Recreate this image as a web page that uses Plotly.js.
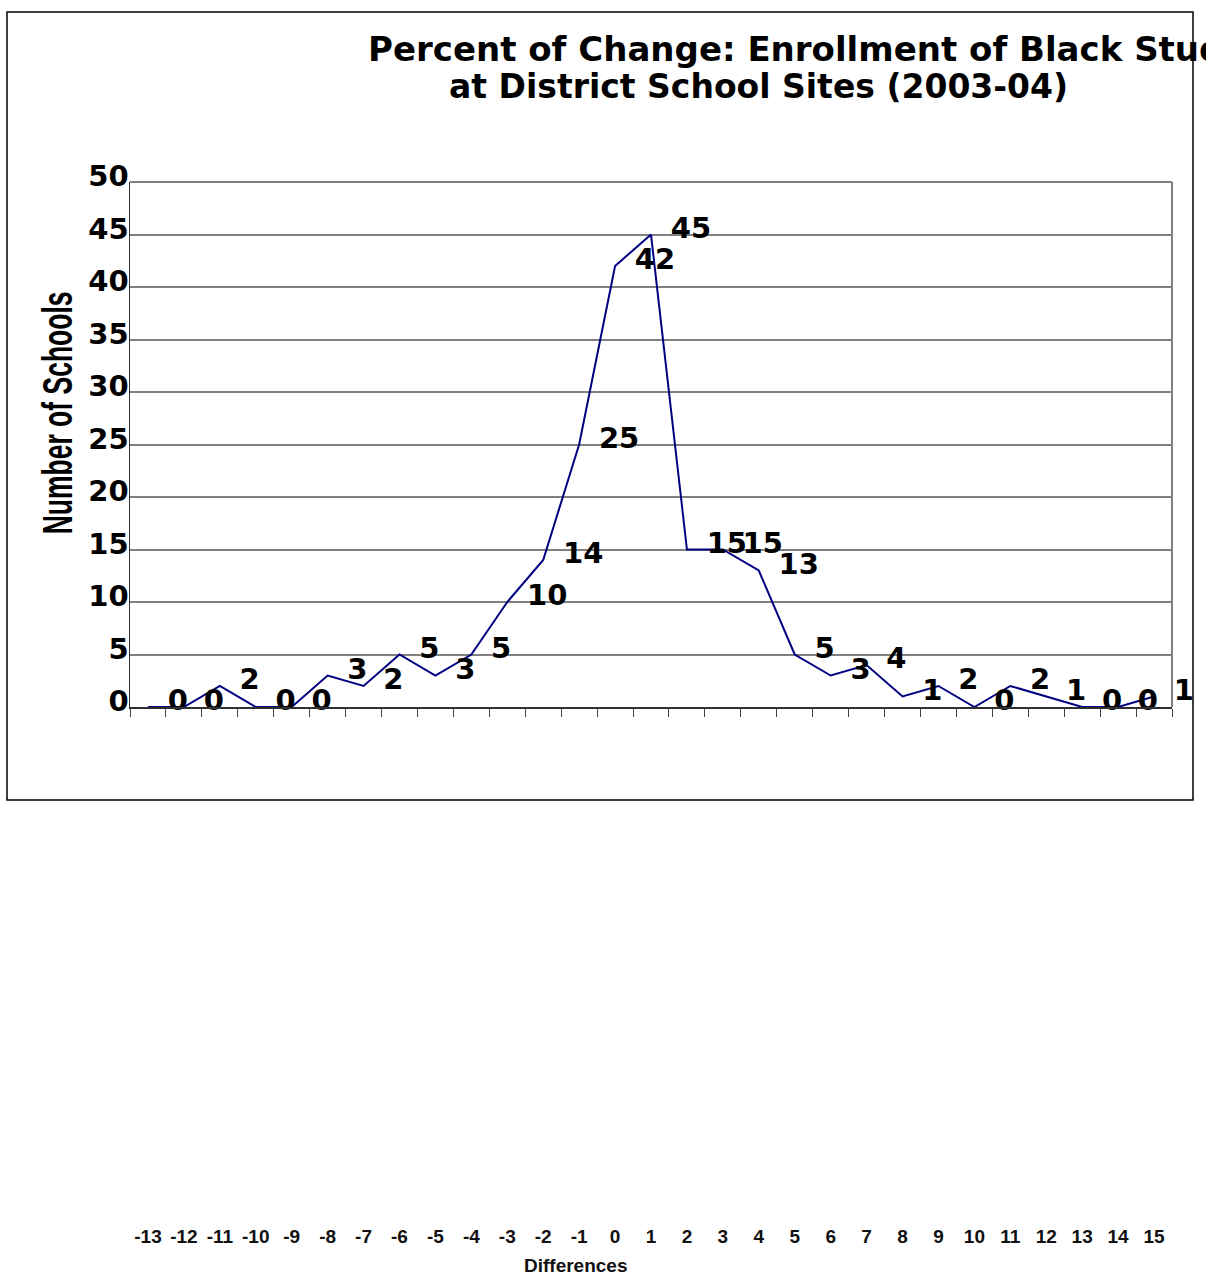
<!DOCTYPE html>
<html>
<head>
<meta charset="utf-8">
<script src="https://cdn.plot.ly/plotly-3.0.1.min.js"></script>
<style>
  html, body { margin: 0; padding: 0; background: #ffffff; }
  #chart { width: 1206px; height: 1277px; }
</style>
</head>
<body>
<div id="chart"></div>
<script>
// ---- data ----
const categories = ['-13','-12','-11','-10','-9','-8','-7','-6','-5','-4','-3','-2','-1','0','1',
                    '2','3','4','5','6','7','8','9','10','11','12','13','14','15'];
const schoolCounts = [0,0,2,0,0,3,2,5,3,5,10,14,25,42,45,15,15,13,5,3,4,1,2,0,2,1,0,0,1];
const titleLine1 = 'Percent of Change: Enrollment of Black Students';
const titleLine2 = 'at District School Sites (2003-04)';
const yTitle = 'Number of Schools';
const xTitle = 'Differences';
const yTicks = [0,5,10,15,20,25,30,35,40,45,50];

const W = 1206, H = 1277;
const L = 130, R = 1172, T = 182, B = 707;
const pw = R - L, ph = B - T;
const px = v => (v - L) / pw;
const py = v => (B - v) / ph;

const wideBold = 'DejaVu Sans, Verdana, sans-serif';
const arial = 'Liberation Sans, Arial, sans-serif';

const trace = {
  type: 'scatter',
  mode: 'lines+markers+text',
  x: categories,
  y: schoolCounts,
  text: schoolCounts.map(String),
  textposition: 'middle right',
  textfont: { family: wideBold, size: 29, color: '#000000', weight: 'bold' },
  line: { color: '#000080', width: 2 },
  marker: { size: 30, color: 'rgba(0,0,0,0)' },
  cliponaxis: false,
  hoverinfo: 'x+y'
};

const layout = {
  width: W, height: H,
  margin: { l: L, r: W - R, t: T, b: H - B, pad: 0 },
  paper_bgcolor: '#ffffff',
  plot_bgcolor: '#ffffff',
  showlegend: false,
  xaxis: {
    type: 'category',
    range: [-0.5, categories.length - 0.5],
    tickson: 'boundaries',
    ticks: 'outside', ticklen: 8, tickwidth: 1, tickcolor: '#404040',
    showline: true, linecolor: '#303030', linewidth: 1.5,
    showgrid: false, zeroline: false,
    tickangle: 0,
    ticklabelstandoff: 512,
    tickfont: { family: arial, size: 19, color: '#111111', weight: 'bold' }
  },
  yaxis: {
    range: [0, 50],
    tickvals: yTicks,
    ticks: '',
    showline: true, linecolor: '#303030', linewidth: 1.5,
    showgrid: true, gridcolor: '#808080', gridwidth: 2,
    zeroline: false,
    ticklabelstandoff: -6,
    ticklabelshift: -6,
    tickfont: { family: wideBold, size: 29, color: '#000000', weight: 'bold' }
  },
  annotations: [
    { xref: 'paper', yref: 'paper', x: px(366), y: py(49), xanchor: 'left', yanchor: 'middle',
      text: titleLine1, showarrow: false, font: { family: wideBold, size: 34, color: '#000000', weight: 'bold' } },
    { xref: 'paper', yref: 'paper', x: px(447), y: py(86), xanchor: 'left', yanchor: 'middle',
      text: titleLine2, showarrow: false, font: { family: wideBold, size: 33, color: '#000000', weight: 'bold' } },
    { xref: 'paper', yref: 'paper', x: px(57), y: py(413), xanchor: 'center', yanchor: 'middle',
      textangle: -90, text: yTitle, showarrow: false,
      font: { family: arial, size: 43, color: '#000000', weight: 'bold' } },
    { xref: 'paper', yref: 'paper', x: px(576), y: py(1265), xanchor: 'center', yanchor: 'middle',
      text: xTitle, showarrow: false,
      font: { family: arial, size: 19, color: '#111111', weight: 'bold' } }
  ],
  shapes: [
    { type: 'line', xref: 'paper', yref: 'paper', x0: 0, x1: 1, y0: 1, y1: 1,
      line: { color: '#808080', width: 2 } },
    { type: 'line', xref: 'paper', yref: 'paper', x0: 1, x1: 1, y0: 0, y1: 1,
      line: { color: '#808080', width: 2 } },
    { type: 'rect', xref: 'paper', yref: 'paper', x0: px(7), x1: px(1193), y0: py(800), y1: py(12),
      line: { color: '#000000', width: 1.5 }, fillcolor: 'rgba(0,0,0,0)', layer: 'below' }
  ]
};

Plotly.newPlot('chart', [trace], layout, { displayModeBar: false, staticPlot: true }).then(gd => {
  // condense the y-axis title horizontally in its own frame (narrow typeface look)
  const targetLen = 243;
  gd.querySelectorAll('text.annotation-text').forEach(t => {
    if (t.textContent !== yTitle) return;
    const bb = t.getBBox();
    const s = targetLen / bb.width;
    const cx = bb.x + bb.width / 2, cy = bb.y + bb.height / 2;
    const prev = t.getAttribute('transform') || '';
    t.setAttribute('transform', (prev + ' translate(' + cx + ',' + cy + ') scale(' + s + ',1) translate(' + (-cx) + ',' + (-cy) + ')').trim());
  });
  // data labels sit slightly above their points, as in the original
  gd.querySelectorAll('g.textpoint text').forEach(t => {
    const prev = t.getAttribute('transform') || '';
    t.setAttribute('transform', ('translate(0,-4) ' + prev).trim());
  });
});
</script>
</body>
</html>
